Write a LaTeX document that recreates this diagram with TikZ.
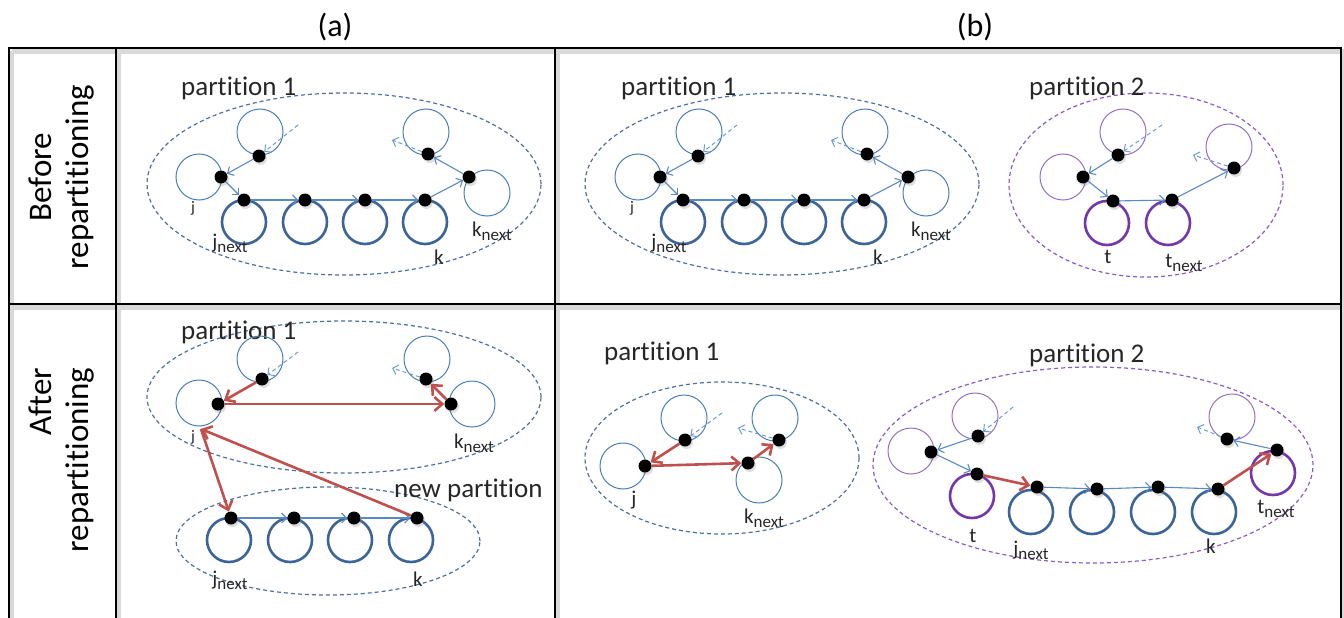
\documentclass[tikz,border=0pt]{standalone}
\usepackage{fontspec}
\setmainfont{Carlito}[Ligatures=NoCommon]
\usetikzlibrary{arrows.meta,shadows,shapes.geometric}

\definecolor{cthin}{HTML}{4A7EBB}
\definecolor{cthick}{HTML}{3B6499}
\definecolor{cblue}{HTML}{5A8AC6}
\definecolor{clight}{HTML}{6C9BD2}
\definecolor{cell}{HTML}{4E6FA0}
\definecolor{pthin}{HTML}{9470C8}
\definecolor{pthick}{HTML}{7536A8}
\definecolor{cpell}{HTML}{8A5CC8}
\definecolor{cred}{HTML}{C0504D}

\newcommand\nx{\raisebox{-0.4ex}{\fontsize{17}{17}\selectfont next}}

\tikzset{
  tc/.style={circle, draw=cthin, line width=1pt, minimum size=46pt, inner sep=0pt},
  kc/.style={circle, draw=cthick, line width=2.6pt, minimum size=44pt, inner sep=0pt},
  ptc/.style={tc, draw=pthin},
  pkc/.style={kc, draw=pthick},
  dotn/.style={circle, fill=black, minimum size=13pt, inner sep=0pt,
    drop shadow={shadow xshift=1.5pt, shadow yshift=-2.5pt, opacity=.25}},
  barr/.style={draw=cblue, line width=1.1pt, -{Straight Barb[length=5pt,width=10pt]}},
  rarr/.style={draw=cred, line width=2.6pt, -{Straight Barb[length=8pt,width=14pt]}},
  darr/.style={draw=clight, line width=1pt, dash pattern=on 4pt off 3pt,
    -{Straight Barb[length=5pt,width=10pt]}},
  bell/.style={ellipse, draw=cell, line width=1.2pt, dash pattern=on 4pt off 3pt, inner sep=0pt},
  pell/.style={bell, draw=cpell},
  ptxt/.style={font=\fontsize{27}{32}\selectfont, text=black!85, anchor=west, inner sep=0pt},
  lbl/.style={font=\fontsize{21}{24}\selectfont, text=black!85, inner sep=0pt},
  slbl/.style={font=\fontsize{16}{20}\selectfont, text=black!85, inner sep=0pt},
  head/.style={font=\fontsize{32}{36}\selectfont, inner sep=0pt},
  rowl/.style={font=\fontsize{33}{37}\selectfont, rotate=90, inner sep=0pt},
  frame/.style={draw=black, line width=2.6pt},
  frshadow/.style={draw=black!15, line width=5pt},
}

\begin{document}
\begin{tikzpicture}[x=1pt, y=-1pt]
\useasboundingbox (0,0) rectangle (1344,618);

% ---- table frame ----
\begin{scope}[shift={(2.5,3.5)}]
  \draw[frshadow] (9,48) -- (1341,48);
  \draw[frshadow] (9,304) -- (1341,304);
  \draw[frshadow] (116,48) -- (116,618);
  \draw[frshadow] (555,48) -- (555,618);
  \draw[frshadow] (1341,48) -- (1341,618);
  \draw[frshadow] (9,48) -- (9,618);
\end{scope}
\draw[frame] (9,618) -- (9,48) -- (1341,48) -- (1341,618);
\draw[frame] (9,304) -- (1341,304);
\draw[frame] (116,48) -- (116,618);
\draw[frame] (555,48) -- (555,618);

\node[head] (ha) at (335,27) {(a)};
\node[head] (hb) at (975,27) {(b)};
\node[rowl, align=center] (rb) at (62,177) {Before\\repartitioning};
\node[rowl, align=right] (ra) at (62,460) {After\\repartitioning};

% ================= (a) before =================
\node[bell, minimum width=394pt, minimum height=182pt] (aE) at (344,184) {};
\node[ptxt] (aP) at (181,88) {partition 1};
\node[tc] (aUc) at (260,132) {};
\node[tc] (aJc) at (199,177) {};
\node[tc] (aRc) at (426,132) {};
\node[tc] (aKnc) at (487,193) {};
\foreach \i/\x in {1/244,2/305,3/365,4/425} \node[kc] (aB\i) at (\x,222) {};
\node[dotn] (aU) at (259,156) {};
\node[dotn] (aJ) at (221,177) {};
\node[dotn] (aR) at (428,154) {};
\node[dotn] (aKn) at (469,177) {};
\foreach \i/\x in {1/244,2/305,3/365,4/425} \node[dotn] (aD\i) at (\x,200) {};
\coordinate (aUin) at (298,125);
\coordinate (aRout) at (392,140);
\draw[darr] (aUin) -- (aU);
\draw[darr] (aR) -- (aRout);
\draw[barr] (aU) -- (aJ);
\draw[barr] (aJ) -- (aD1);
\draw[barr] (aD1) -- (aD2);
\draw[barr] (aD2) -- (aD3);
\draw[barr] (aD3) -- (aD4);
\draw[barr] (aD4) -- (aKn);
\draw[barr] (aKn) -- (aR);
\node[slbl] (aLj) at (193,208) {j};
\node[lbl] (aLjn) at (230,243) {j\nx};
\node[lbl] (aLk) at (439,257) {k};
\node[lbl] (aLkn) at (492,231) {k\nx};

% ================= (b) before, partition 1 =================
\node[bell, minimum width=394pt, minimum height=182pt] (bE) at (782,184) {};
\node[ptxt] (bP) at (621,88) {partition 1};
\node[tc] (bUc) at (699,132) {};
\node[tc] (bJc) at (638,177) {};
\node[tc] (bRc) at (865,132) {};
\node[tc] (bKnc) at (926,193) {};
\foreach \i/\x in {1/683,2/744,3/804,4/864} \node[kc] (bB\i) at (\x,222) {};
\node[dotn] (bU) at (698,156) {};
\node[dotn] (bJ) at (660,177) {};
\node[dotn] (bR) at (867,154) {};
\node[dotn] (bKn) at (908,177) {};
\foreach \i/\x in {1/683,2/744,3/804,4/864} \node[dotn] (bD\i) at (\x,200) {};
\coordinate (bUin) at (737,125);
\coordinate (bRout) at (831,140);
\draw[darr] (bUin) -- (bU);
\draw[darr] (bR) -- (bRout);
\draw[barr] (bU) -- (bJ);
\draw[barr] (bJ) -- (bD1);
\draw[barr] (bD1) -- (bD2);
\draw[barr] (bD2) -- (bD3);
\draw[barr] (bD3) -- (bD4);
\draw[barr] (bD4) -- (bKn);
\draw[barr] (bKn) -- (bR);
\node[slbl] (bLj) at (632,208) {j};
\node[lbl] (bLjn) at (669,243) {j\nx};
\node[lbl] (bLk) at (878,257) {k};
\node[lbl] (bLkn) at (931,231) {k\nx};

% ================= (b) before, partition 2 =================
\node[pell, minimum width=274pt, minimum height=184pt] (cE) at (1146,185) {};
\node[ptxt] (cP) at (1029,88) {partition 2};
\node[ptc] (cUc) at (1123,132) {};
\node[ptc] (cLc) at (1063,177) {};
\node[ptc] (cRc) at (1229,147) {};
\node[pkc] (cTc) at (1107,223) {};
\node[pkc] (cTnc) at (1168,223) {};
\node[dotn] (cU) at (1118,155) {};
\node[dotn] (cL) at (1083,177) {};
\node[dotn] (cT) at (1113,201) {};
\node[dotn] (cTn) at (1172,200) {};
\node[dotn] (cR) at (1234,168) {};
\coordinate (cUin) at (1162,125);
\coordinate (cRout) at (1193,155);
\draw[darr] (cUin) -- (cU);
\draw[darr] (cR) -- (cRout);
\draw[barr] (cU) -- (cL);
\draw[barr] (cL) -- (cT);
\draw[barr] (cT) -- (cTn);
\draw[barr] (cTn) -- (cR);
\node[lbl] (cLt) at (1108,257) {t};
\node[lbl] (cLtn) at (1184,263) {t\nx};

% ================= (a) after =================
\node[bell, minimum width=394pt, minimum height=152pt] (dE) at (344,397) {};
\node[ptxt] (dP) at (181,332) {partition 1};
\node[tc] (dUc) at (260,359) {};
\node[tc] (dJc) at (199,403) {};
\node[tc] (dRc) at (427,359) {};
\node[tc] (dKnc) at (472,404) {};
\node[dotn] (dU) at (262,379) {};
\node[dotn] (dJ) at (218,404) {};
\node[dotn] (dR) at (426,379) {};
\node[dotn] (dKn) at (451,404) {};
\coordinate (dJb) at (201,429);
\coordinate (dUin) at (298,352);
\coordinate (dRout) at (392,368);
\node[bell, minimum width=304pt, minimum height=108pt] (dN) at (328,541) {};
\node[ptxt] (dNP) at (394,490) {new partition};
\foreach \i/\x in {1/229,2/290,3/350,4/411} \node[kc] (dB\i) at (\x,540) {};
\foreach \i/\x in {1/231,2/294,3/354,4/417} \node[dotn] (dD\i) at (\x,518) {};
\draw[darr] (dUin) -- (dU);
\draw[darr] (dR) -- (dRout);
\draw[barr] (dD1) -- (dD2);
\draw[barr] (dD2) -- (dD3);
\draw[barr] (dD3) -- (dD4);
\draw[rarr] (dU) -- (dJ);
\draw[rarr] (dJ) -- (dKn);
\draw[rarr] (dKn) -- (dR);
\draw[rarr] (dJb) -- (dD1);
\draw[rarr] (dD4) -- (dJb);
\node[slbl] (dLj) at (193,437) {j};
\node[lbl] (dLkn) at (474,443) {k\nx};
\node[lbl] (dLjn) at (230,580) {j\nx};
\node[lbl] (dLk) at (418,579) {k};

% ================= (b) after, partition 1 =================
\node[bell, minimum width=274pt, minimum height=152pt] (eE) at (722,458) {};
\node[ptxt] (eP) at (604,353) {partition 1};
\node[tc] (eUc) at (684,418) {};
\node[tc] (eJc) at (623,466) {};
\node[tc] (eRc) at (775,418) {};
\node[tc] (eKnc) at (759,480) {};
\node[dotn] (eU) at (685,440) {};
\node[dotn] (eJ) at (645,466) {};
\node[dotn] (eR) at (779,440) {};
\node[dotn] (eKn) at (748,463) {};
\coordinate (eUin) at (722,413);
\coordinate (eRout) at (738,428);
\draw[darr] (eUin) -- (eU);
\draw[darr] (eR) -- (eRout);
\draw[rarr] (eU) -- (eJ);
\draw[rarr] (eJ) -- (eKn);
\draw[rarr] (eKn) -- (eR);
\node[lbl] (eLj) at (634,500) {j};
\node[lbl] (eLkn) at (764,518) {k\nx};

% ================= (b) after, partition 2 =================
\node[pell, minimum width=440pt, minimum height=196pt] (fE) at (1093,465) {};
\node[ptxt] (fP) at (1029,355) {partition 2};
\node[ptc] (fUc) at (975,416) {};
\node[ptc] (fLc) at (911,451) {};
\node[ptc] (fRc) at (1232,417) {};
\node[pkc] (fTc) at (972,496) {};
\node[pkc] (fTnc) at (1273,473) {};
\foreach \i/\x in {1/1031,2/1092,3/1153,4/1214} \node[kc] (fB\i) at (\x,512) {};
\node[dotn] (fU) at (978,436) {};
\node[dotn] (fL) at (931,452) {};
\node[dotn] (fT) at (977,474) {};
\node[dotn] (fTn) at (1277,450) {};
\node[dotn] (fR) at (1227,439) {};
\foreach \i/\x/\y in {1/1037/487,2/1097/489,3/1158/487,4/1218/489} \node[dotn] (fD\i) at (\x,\y) {};
\coordinate (fUin) at (1013,407);
\coordinate (fRout) at (1197,427);
\draw[darr] (fUin) -- (fU);
\draw[darr] (fR) -- (fRout);
\draw[barr] (fU) -- (fL);
\draw[barr] (fL) -- (fT);
\draw[barr] (fD1) -- (fD2);
\draw[barr] (fD2) -- (fD3);
\draw[barr] (fD3) -- (fD4);
\draw[barr] (fTn) -- (fR);
\draw[rarr] (fT) -- (fD1);
\draw[rarr] (fD4) -- (fTn);
\node[lbl] (fLt) at (973,536) {t};
\node[lbl] (fLjn) at (1031,550) {j\nx};
\node[lbl] (fLk) at (1211,546) {k};
\node[lbl] (fLtn) at (1276,509) {t\nx};
\end{tikzpicture}
\end{document}
